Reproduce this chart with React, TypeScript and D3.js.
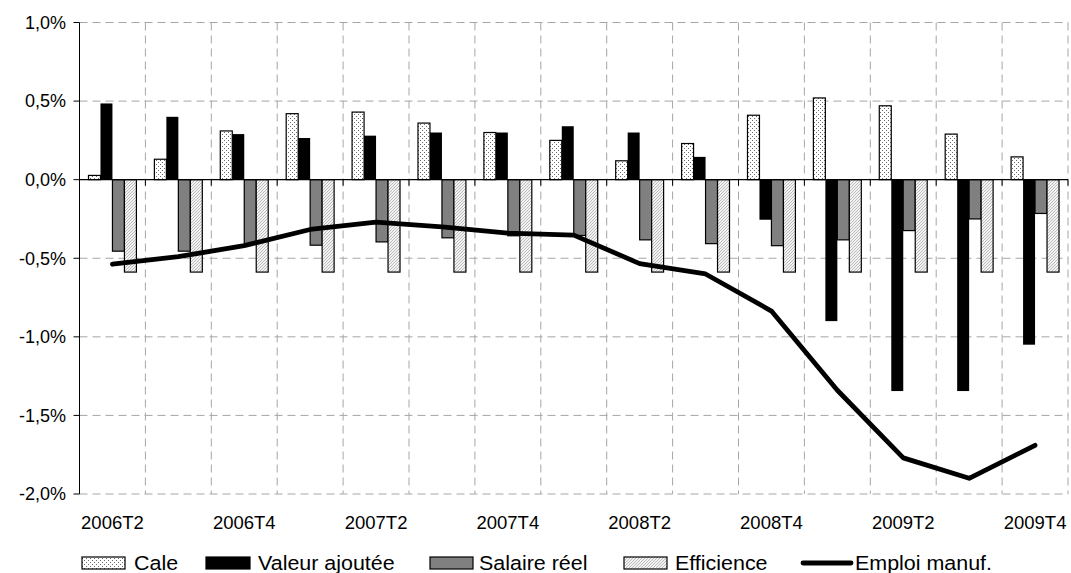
import React from "react";
import * as d3 from "d3";

// Quarterly contributions (percentage points)
const quarters = [
  "2006T2", "2006T3", "2006T4",
  "2007T1", "2007T2", "2007T3", "2007T4",
  "2008T1", "2008T2", "2008T3", "2008T4",
  "2009T1", "2009T2", "2009T3", "2009T4",
];
const cale = [0.027, 0.13, 0.31, 0.42, 0.43, 0.36, 0.30, 0.25, 0.12, 0.23, 0.41, 0.52, 0.47, 0.29, 0.145];
const valeurAjoutee = [0.485, 0.40, 0.29, 0.265, 0.28, 0.30, 0.30, 0.34, 0.30, 0.145, -0.255, -0.90, -1.345, -1.345, -1.05];
const salaireReel = [-0.455, -0.455, -0.41, -0.417, -0.396, -0.37, -0.357, -0.355, -0.383, -0.407, -0.42, -0.383, -0.324, -0.25, -0.215];
const efficience = [-0.588, -0.588, -0.588, -0.588, -0.588, -0.588, -0.588, -0.588, -0.588, -0.588, -0.588, -0.588, -0.588, -0.588, -0.588];
const emploiManuf = [-0.538, -0.49, -0.42, -0.317, -0.27, -0.30, -0.34, -0.353, -0.534, -0.60, -0.836, -1.34, -1.77, -1.90, -1.69];

const yTicks = [1.0, 0.5, 0.0, -0.5, -1.0, -1.5, -2.0];
const xLabelEvery = 2;

const seriesNames = ["Cale", "Valeur ajoutée", "Salaire réel", "Efficience"];
const lineName = "Emploi manuf.";

const W = 1071;
const H = 573;
const margin = { left: 79.5, right: 3, top: 22.5, bottom: 79 };
const FONT = "'Liberation Sans', Arial, sans-serif";

const fills = ["url(#pat-cale)", "#000000", "#808080", "url(#pat-eff)"];

export default function App() {
  const x = d3
    .scaleBand<string>()
    .domain(quarters)
    .range([margin.left, W - margin.right])
    .paddingInner(0)
    .paddingOuter(0);
  const y = d3
    .scaleLinear()
    .domain([-2.0, 1.0])
    .range([H - margin.bottom, margin.top]);

  const catW = x.bandwidth();
  const barW = catW / (4 + 1.5);
  const series = [cale, valeurAjoutee, salaireReel, efficience];
  const y0 = y(0);
  const fmt = (v: number) => d3.format(".1f")(v).replace(".", ",").replace("−", "-") + "%";

  const line = d3
    .line<number>()
    .x((_, i) => (x(quarters[i]) as number) + catW / 2)
    .y((d) => y(d));

  const gridColor = "#a6a6a6";
  const dash = "8,5";
  const plotBottom = y(-2.0);
  const plotTop = y(1.0);
  const plotRight = W - margin.right;

  // Legend layout
  const legendY = 563;
  const legendSX = 1.1;
  const legendItems = [
    { x: 82, w: 43, fill: fills[0], label: seriesNames[0], tx: 134 },
    { x: 206, w: 44, fill: fills[1], label: seriesNames[1], tx: 258 },
    { x: 430, w: 43, fill: fills[2], label: seriesNames[2], tx: 479 },
    { x: 624, w: 43, fill: fills[3], label: seriesNames[3], tx: 675 },
  ];

  return (
    <svg width={W} height={H} style={{ position: "absolute", left: 0, top: 0, background: "#fff" }}>
      <defs>
        <pattern id="pat-cale" width="4" height="4" patternUnits="userSpaceOnUse">
          <rect width="4" height="4" fill="#fff" />
          <rect x="0" y="0" width="1" height="1" fill="#6a6a6a" />
          <rect x="2" y="2" width="1" height="1" fill="#6a6a6a" />
        </pattern>
        <pattern id="pat-eff" width="3" height="3" patternUnits="userSpaceOnUse">
          <rect width="3" height="3" fill="#f2f2f2" />
          <path d="M-1,1 L1,-1 M0,3 L3,0 M2,4 L4,2" stroke="#b4b4b4" strokeWidth="0.9" />
        </pattern>
      </defs>
      <rect x={0} y={0} width={W} height={H} fill="#fff" />

      {/* horizontal grid */}
      {yTicks.filter((t) => t !== 0).map((t) => (
        <line key={"hg" + t} x1={margin.left} x2={plotRight} y1={y(t)} y2={y(t)}
          stroke={gridColor} strokeWidth={1} strokeDasharray={dash} />
      ))}
      {/* vertical grid at category boundaries */}
      {quarters.map((q) => {
        const xv = (x(q) as number) + catW;
        return (
          <line key={"vg" + q} x1={xv} x2={xv} y1={plotTop} y2={plotBottom}
            stroke={gridColor} strokeWidth={1} strokeDasharray={dash} />
        );
      })}

      {/* bars */}
      {series.map((vals, s) =>
        vals.map((v, i) => {
          const cx = (x(quarters[i]) as number) + catW / 2;
          const bx = cx - 2 * barW + s * barW;
          const top = Math.min(y(v), y0);
          const h = Math.abs(y(v) - y0);
          return (
            <rect key={`b${s}-${i}`} x={bx} y={top} width={barW} height={h}
              fill={fills[s]} stroke="#000" strokeWidth={s === 1 ? 0 : 1.2} />
          );
        })
      )}

      {/* zero axis with ticks */}
      <line x1={margin.left} x2={plotRight} y1={y0} y2={y0} stroke="#000" strokeWidth={1.2} />
      {quarters.map((q) => {
        const xv = (x(q) as number) + catW;
        return <line key={"xt" + q} x1={xv} x2={xv} y1={y0} y2={y0 + 6} stroke="#000" strokeWidth={1} />;
      })}

      {/* y axis */}
      <line x1={margin.left} x2={margin.left} y1={plotTop} y2={plotBottom} stroke="#000" strokeWidth={1} />
      {yTicks.map((t) => (
        <g key={"yt" + t}>
          <line x1={margin.left - 6} x2={margin.left} y1={y(t)} y2={y(t)} stroke="#000" strokeWidth={1} />
          <text x={66} y={y(t)} dy="0.35em" textAnchor="end" fontFamily={FONT} fontSize={18} fill="#000">
            {fmt(t)}
          </text>
        </g>
      ))}

      {/* employment line */}
      <path d={line(emploiManuf) as string} fill="none" stroke="#000" strokeWidth={4.8}
        strokeLinejoin="round" strokeLinecap="round" />

      {/* x labels */}
      {quarters.map((q, i) =>
        i % xLabelEvery === 0 ? (
          <text key={"xl" + q} x={(x(q) as number) + catW / 2} y={529} textAnchor="middle"
            fontFamily={FONT} fontSize={18.5} fill="#000">
            {q}
          </text>
        ) : null
      )}

      {/* legend */}
      {legendItems.map((it) => (
        <g key={"lg" + it.label}>
          <rect x={it.x} y={legendY - 6} width={it.w} height={12} fill={it.fill}
            stroke="#000" strokeWidth={1.2} />
          <text transform={`translate(${it.tx},${legendY + 7}) scale(${legendSX},1)`}
            fontFamily={FONT} fontSize={19.5} fill="#000">
            {it.label}
          </text>
        </g>
      ))}
      <line x1={803} x2={851} y1={legendY} y2={legendY} stroke="#000" strokeWidth={4.8} strokeLinecap="round" />
      <text transform={`translate(855,${legendY + 7}) scale(${legendSX},1)`}
        fontFamily={FONT} fontSize={19.5} fill="#000">
        {lineName}
      </text>
    </svg>
  );
}
